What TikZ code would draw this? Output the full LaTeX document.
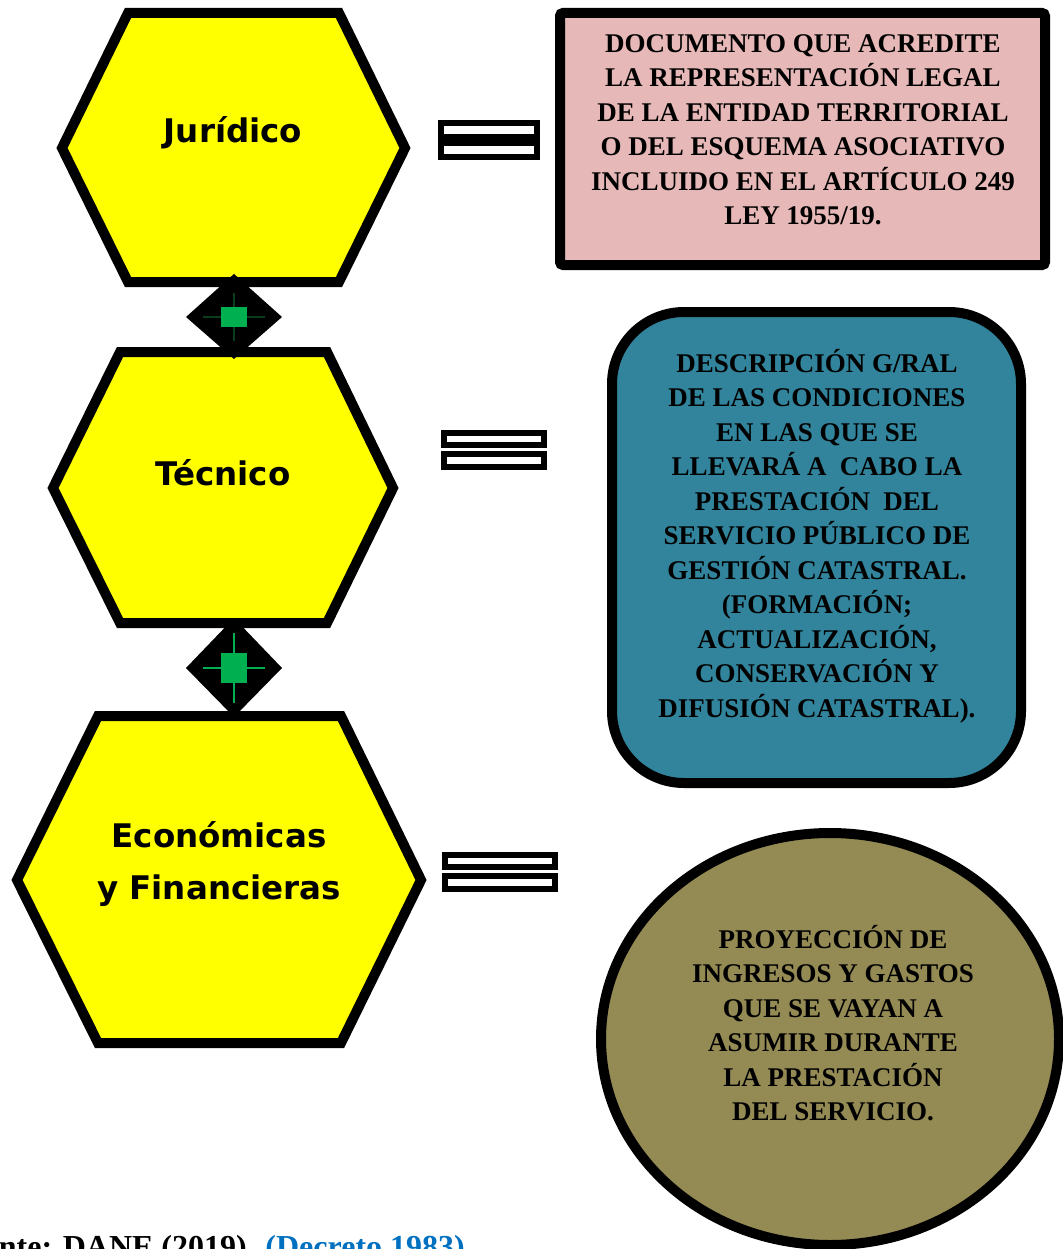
\documentclass[tikz,border=0pt]{standalone}
\usepackage{fontspec}
\newfontfamily\boxfont{Liberation Serif}
\newfontfamily\hexfont{DejaVu Sans}
\definecolor{hexyellow}{HTML}{FFFF00}
\definecolor{pinkfill}{HTML}{E6B8B7}
\definecolor{tealfill}{HTML}{31849B}
\definecolor{olivefill}{HTML}{948A54}
\definecolor{jgreen}{HTML}{00B050}
\definecolor{dkgreen}{HTML}{0B3D1C}
\definecolor{linkblue}{HTML}{0070C0}
\tikzset{
  hexshape/.style={draw=black, line width=10pt, fill=hexyellow, line join=miter},
  hexlabel/.style={font=\hexfont\bfseries\fontsize{32.5}{52}\selectfont, align=center, text=black},
  boxtext/.style={font=\boxfont\bfseries\fontsize{27}{34.5}\selectfont, align=center, text=black},
  eqbar/.style={draw=black, line width=5.5pt, fill=white},
  linkshape/.style={fill=black},
  greensq/.style={fill=jgreen},
}
\begin{document}
\begin{tikzpicture}[x=1pt,y=-1pt]
\useasboundingbox (0,0) rectangle (1062,1249);
\fill[white] (0,0) rectangle (1062,1249);

% Hexagons
\draw[hexshape] (128,13) -- (339,13) -- (405,148) -- (339,282) -- (128,282) -- (62,148) -- cycle;
\node[hexlabel] (jur) at (233,133) {Jurídico};
\draw[hexshape] (120,352) -- (327,352) -- (393,488) -- (327,623) -- (120,623) -- (53,488) -- cycle;
\node[hexlabel] (tec) at (223,473) {Técnico};
\draw[hexshape] (98,716) -- (341,716) -- (421,880) -- (341,1043) -- (98,1043) -- (17,880) -- cycle;
\node[hexlabel] (eco) at (219,864) {Económicas\\y Financieras};

% Connectors between hexagons
\coordinate (l1) at (234,317);
\coordinate (l2) at (234,668);
\fill[linkshape] (234,274) -- (282,317) -- (234,359) -- (186,317) -- cycle;
\draw[dkgreen, line width=1.5pt] ([xshift=-31pt]l1) -- ([xshift=31pt]l1);
\draw[dkgreen, line width=1.5pt] ([yshift=-24pt]l1) -- ([yshift=24pt]l1);
\fill[greensq] ([xshift=-13pt,yshift=-10pt]l1) rectangle ([xshift=13pt,yshift=10pt]l1);
\fill[linkshape] (234,618) -- (282,668) -- (234,717) -- (186,668) -- cycle;
\draw[jgreen, line width=2pt] ([xshift=-31pt]l2) -- ([xshift=31pt]l2);
\draw[jgreen, line width=2pt] ([yshift=-35pt]l2) -- ([yshift=35pt]l2);
\fill[greensq] ([xshift=-13pt,yshift=-15pt]l2) rectangle ([xshift=13pt,yshift=15pt]l2);

% Equal signs
\draw[eqbar] (441,123) rectangle (537,137);
\draw[eqbar] (441,143) rectangle (537,157);
\draw[eqbar] (444,433) rectangle (544,445);
\draw[eqbar] (444,454) rectangle (544,467);
\draw[eqbar] (445,855) rectangle (555,867);
\draw[eqbar] (445,876) rectangle (555,889);

% Pink box
\draw[draw=black, line width=10pt, fill=pinkfill, rounded corners=3pt] (560,13) rectangle (1045,265);
\node[boxtext] (doc) at (803,130) {DOCUMENTO QUE ACREDITE\\LA REPRESENTACIÓN LEGAL\\DE LA ENTIDAD TERRITORIAL\\O DEL ESQUEMA ASOCIATIVO\\INCLUIDO EN EL ARTÍCULO 249\\LEY 1955/19.};

% Teal rounded box
\draw[draw=black, line width=10pt, fill=tealfill, rounded corners=72pt] (612,312) rectangle (1021,783);
\node[boxtext] (desc) at (817,536) {DESCRIPCIÓN G/RAL\\DE LAS CONDICIONES\\EN LAS QUE SE\\LLEVARÁ A\ \ CABO LA\\PRESTACIÓN\ \ DEL\\SERVICIO PÚBLICO DE\\GESTIÓN CATASTRAL.\\(FORMACIÓN;\\ACTUALIZACIÓN,\\CONSERVACIÓN Y\\DIFUSIÓN CATASTRAL).};

% Olive ellipse
\draw[draw=black, line width=10pt, fill=olivefill] (830,1039) ellipse [x radius=229, y radius=206];
\node[boxtext] (proy) at (833,1023) {PROYECCIÓN DE\\INGRESOS Y GASTOS\\QUE SE VAYAN A\\ASUMIR DURANTE\\LA PRESTACIÓN\\DEL SERVICIO.};

% Source line (cut off at bottom, as in the reference)
\node[anchor=base east, inner sep=0pt, font=\boxfont\bfseries\fontsize{32}{36}\selectfont] (src) at (465,1257) {Fuente: DANE (2019). \textcolor{linkblue}{(Decreto 1983)}};
\end{tikzpicture}
\end{document}
